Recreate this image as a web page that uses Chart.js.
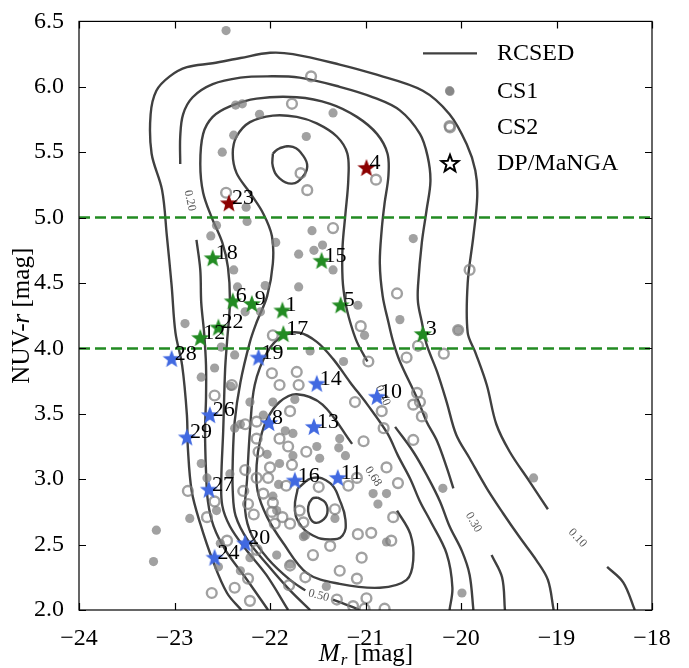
<!DOCTYPE html>
<html>
<head>
<meta charset="utf-8">
<script src="https://cdn.jsdelivr.net/npm/chart.js@4.4.1/dist/chart.umd.min.js"></script>
<style>
  body { margin: 0; background: #fff; }
</style>
</head>
<body>
<canvas id="chart" width="689" height="668"></canvas>
<script>
// ---- data ----
var xTicks = [-24, -23, -22, -21, -20, -19, -18];
var yTicks = [2.0, 2.5, 3.0, 3.5, 4.0, 4.5, 5.0, 5.5, 6.0, 6.5];
var cuts = [4.0, 5.0];

// RCSED density contours (Mr, NUV-r); split where the level labels sit
var rcsed10a = [[-22.30,2.0],[-22.45,2.13],[-22.60,2.38],[-22.73,2.66],[-22.82,2.91],[-22.86,3.24],[-22.87,3.49],[-22.92,3.87],[-22.99,4.12],[-23.03,4.48],[-23.08,4.86],[-23.13,5.21],[-23.24,5.49],[-23.25,5.79],[-23.19,5.97],[-23.05,6.08],[-22.87,6.15],[-22.60,6.18],[-22.31,6.22],[-22.0,6.26],[-21.76,6.25],[-21.27,6.17],[-20.92,6.10],[-20.40,5.97],[-20.12,5.79],[-19.94,5.56],[-19.85,5.36],[-19.83,5.16],[-19.87,4.86],[-19.93,4.50],[-19.93,4.12],[-19.85,3.97],[-19.73,3.72],[-19.63,3.42],[-19.49,3.21],[-19.28,2.98],[-19.09,2.77]];
var rcsed10b = [[-18.47,2.33],[-18.30,2.21],[-18.18,2.0]];
var rcsed20a = [[-22.94,5.41],[-22.94,5.62],[-22.91,5.79],[-22.81,5.92],[-22.60,6.02],[-22.31,6.07],[-22.03,6.08],[-21.69,6.07],[-21.27,6.0],[-20.92,5.92],[-20.64,5.82],[-20.43,5.64],[-20.35,5.47],[-20.32,5.28],[-20.36,5.06],[-20.41,4.81],[-20.45,4.48],[-20.45,4.35],[-20.41,4.20],[-20.36,4.03],[-20.25,3.82],[-20.15,3.59],[-20.05,3.34],[-19.91,3.16],[-19.73,2.93],[-19.56,2.74],[-19.38,2.55],[-19.21,2.38],[-19.09,2.23],[-19.03,2.0]];
var rcsed20b = [[-22.77,4.83],[-22.73,4.60],[-22.72,4.35],[-22.69,4.12],[-22.67,3.87],[-22.67,3.62],[-22.68,3.37],[-22.67,3.06],[-22.65,2.83],[-22.59,2.64],[-22.46,2.45],[-22.26,2.25],[-22.02,2.0]];
var rcsed30a = [[-21.81,2.0],[-22.04,2.27],[-22.26,2.47],[-22.42,2.64],[-22.50,2.80],[-22.51,3.0],[-22.49,3.37],[-22.47,3.84],[-22.45,4.05],[-22.42,4.35],[-22.44,4.62],[-22.50,4.81],[-22.61,5.0],[-22.70,5.19],[-22.73,5.41],[-22.70,5.64],[-22.60,5.77],[-22.42,5.85],[-22.14,5.91],[-21.72,5.92],[-21.37,5.87],[-21.09,5.77],[-20.88,5.64],[-20.77,5.49],[-20.76,5.32],[-20.80,5.11],[-20.83,4.91],[-20.85,4.65],[-20.82,4.40],[-20.76,4.20],[-20.71,4.05],[-20.64,3.90],[-20.46,3.62],[-20.36,3.44],[-20.25,3.29],[-20.15,3.09],[-20.08,2.93]];
var rcsed30b = [[-19.68,2.42],[-19.57,2.25],[-19.54,2.0]];
var rcsed40a = [[-21.58,2.0],[-21.79,2.15],[-22.02,2.34],[-22.23,2.53],[-22.36,2.72],[-22.39,2.91],[-22.39,3.14],[-22.37,3.44],[-22.31,3.74],[-22.21,4.05],[-22.14,4.20],[-22.03,4.40],[-21.97,4.65],[-21.98,4.86],[-22.07,5.03],[-22.21,5.19],[-22.35,5.34],[-22.39,5.49],[-22.35,5.62],[-22.21,5.73],[-21.97,5.78],[-21.72,5.77],[-21.51,5.72],[-21.30,5.62],[-21.19,5.49],[-21.18,5.29],[-21.21,5.03],[-21.24,4.78],[-21.24,4.53],[-21.21,4.35],[-21.16,4.20],[-21.09,4.05],[-20.98,3.90]];
var rcsed40b = [[-20.69,3.40],[-20.50,3.21],[-20.35,3.02],[-20.22,2.83],[-20.12,2.64],[-19.99,2.45],[-19.91,2.27],[-19.87,2.0]];
var rcsed50a = [[-21.34,2.08],[-21.16,2.03],[-21.06,2.0]];
var rcsed50b = [[-21.63,2.15],[-21.79,2.23],[-22.02,2.39],[-22.19,2.57],[-22.26,2.76],[-22.24,3.0],[-22.21,3.37],[-22.16,3.72],[-22.03,3.97],[-21.86,4.10],[-21.69,4.12],[-21.51,4.05],[-21.34,3.92],[-21.16,3.74],[-20.98,3.57],[-20.77,3.35],[-20.66,3.18],[-20.53,3.0],[-20.43,2.83],[-20.32,2.68],[-20.15,2.43],[-20.09,2.17],[-20.12,2.0]];
var rcsed50red = [[-21.97,5.49],[-21.90,5.53],[-21.76,5.54],[-21.65,5.47],[-21.61,5.39],[-21.66,5.31],[-21.77,5.26],[-21.90,5.30],[-21.97,5.39],[-21.97,5.49]];
var rcsed68 = [[-20.67,2.76],[-20.53,2.58],[-20.50,2.38],[-20.57,2.23],[-20.85,2.17],[-21.27,2.20],[-21.61,2.28],[-21.86,2.51],[-22.03,2.71],[-22.13,2.91],[-22.14,3.11],[-22.10,3.31],[-22.03,3.46],[-21.90,3.59],[-21.72,3.65],[-21.45,3.57],[-21.14,3.27]];
var rcsedIn1 = [[-21.71,2.93],[-21.55,3.01],[-21.37,2.97],[-21.27,2.84],[-21.21,2.69],[-21.24,2.57],[-21.37,2.54],[-21.55,2.57],[-21.69,2.66],[-21.74,2.78],[-21.71,2.93]];
var rcsedIn2 = [[-21.50,2.86],[-21.42,2.82],[-21.40,2.74],[-21.46,2.68],[-21.54,2.67],[-21.59,2.72],[-21.60,2.79],[-21.56,2.85],[-21.50,2.86]];

var levelText = ['0.10', '0.20', '0.30', '0.40', '0.50', '0.68'];
var levelMr   = [-18.78, -22.84, -19.87, -20.82, -21.49, -20.92];
var levelNuvr = [2.55, 5.13, 2.67, 3.64, 2.11, 3.02];

var cs1 = [[-22.46,6.43],[-22.38,5.63],[-22.50,5.50],[-22.36,5.86],[-22.29,5.87],[-22.11,5.79],[-21.62,5.62],[-21.34,5.80],[-22.25,5.08],[-22.24,4.97],[-22.56,4.94],[-22.62,4.86],[-21.94,4.81],[-21.70,4.72],[-21.56,4.90],[-21.45,4.79],[-21.54,4.75],[-21.34,4.60],[-22.38,4.60],[-22.05,4.48],[-21.70,4.47],[-22.34,4.47],[-22.89,4.19],[-22.26,4.28],[-22.10,4.28],[-20.12,5.97],[-20.50,4.84],[-21.08,4.33],[-20.64,4.22],[-20.03,4.14],
  [-22.37,3.95],[-22.58,3.85],[-22.72,3.78],[-22.37,3.39],[-22.72,3.12],[-22.66,3.01],[-22.84,2.70],[-23.19,2.61],[-23.22,2.37],[-22.56,2.76],[-22.54,2.33],[-22.42,3.04],[-22.21,3.59],[-21.74,3.61],[-21.97,3.59],[-22.07,3.49],[-21.76,3.35],[-21.84,3.37],[-22.03,3.19],[-21.51,3.25],[-21.28,3.24],[-21.21,3.18],[-21.76,3.18],[-21.90,3.12],[-21.91,2.96],[-21.97,2.87],[-21.32,2.70],[-20.92,2.89],[-20.87,2.81],[-20.78,2.89],[-21.63,2.57],[-21.93,2.42],[-21.41,2.18],[-22.21,2.40],[-22.52,2.51],[-21.58,3.98],[-22.51,4.01],[-21.01,4.10],[-22.41,3.71],[-20.19,2.93],[-19.24,3.01],[-19.99,2.13],[-20.78,2.52],[-21.48,3.16],[-21.93,2.76],[-21.65,2.56],[-21.23,3.90],[-22.31,3.42],[-21.27,3.31],[-21.79,2.35],[-22.31,2.30]];

var cs2 = [[-21.57,6.08],[-21.77,5.87],[-21.68,5.34],[-21.61,5.21],[-22.46,5.19],[-21.34,4.92],[-20.89,5.29],[-20.67,4.42],[-19.91,4.60],[-21.05,4.17],[-20.12,5.70],
  [-21.97,4.10],[-20.97,3.90],[-20.57,3.93],[-20.45,4.02],[-21.72,3.82],[-21.98,3.81],[-21.90,3.72],[-21.70,3.72],[-20.46,3.66],[-20.43,3.59],[-20.83,3.52],[-22.40,3.72],[-22.58,3.64],
  [-20.18,3.96],[-20.50,3.57],[-20.41,3.48],[-20.81,3.39],[-21.02,3.29],[-20.50,3.30],[-20.78,3.09],[-20.66,2.97],[-20.71,2.71],[-20.94,2.59],[-20.73,2.53],[-21.04,2.40],
  [-21.18,2.95],[-21.08,2.58],[-21.09,2.24],[-21.01,2.01],[-20.80,2.01],
  [-22.26,3.42],[-21.90,3.31],[-21.81,3.25],[-22.12,3.21],[-21.62,3.21],[-21.77,3.11],[-22.00,3.09],[-22.26,3.07],[-22.14,3.01],[-22.02,3.01],[-22.28,2.91],[-21.83,2.95],[-21.49,2.94],[-22.58,2.83],[-22.23,2.81],[-21.98,2.75],[-21.87,2.71],[-22.17,2.73],[-21.69,2.76],[-21.32,2.77],[-21.79,2.66],[-21.65,2.67],[-21.95,2.66],[-22.66,2.71],[-21.09,3.01],[-21.37,2.49],[-21.55,2.42],[-21.27,2.30],[-21.63,2.25],[-21.79,2.34],[-21.80,2.19],[-21.30,2.08],[-21.13,2.03],[-22.61,2.13],[-22.37,2.17],[-22.86,2.91],[-22.45,2.53],[-22.23,2.24],[-22.14,2.46],[-22.07,2.89],[-22.14,3.44],[-21.97,2.82],[-20.99,2.09],[-22.21,2.07],[-22.14,3.31],[-21.79,3.52],[-21.11,3.59],[-20.03,4.14]];

var dpIds  = ['23','4','18','15','6','9','1','5','22','12','17','3','28','19','14','10','26','8','13','29','16','11','27','24','20'];
var dpMr   = [-22.43,-20.99,-22.60,-21.46,-22.39,-22.19,-21.87,-21.26,-22.54,-22.73,-21.86,-20.40,-23.03,-22.12,-21.51,-20.88,-22.63,-22.01,-21.54,-22.87,-21.74,-21.29,-22.64,-22.58,-22.26];
var dpNuvr = [5.11,5.38,4.69,4.67,4.36,4.34,4.29,4.33,4.16,4.08,4.11,4.11,3.92,3.93,3.73,3.63,3.49,3.43,3.40,3.32,2.99,3.01,2.92,2.40,2.51];

// ---- drawing ----
var SERIF = '"Liberation Serif", "DejaVu Serif", serif';
var CONTOUR = '#404040';
var GREY = 'rgba(125,125,125,0.72)';

function pts(arr) {
    return arr.map(function(p) { return {x: p[0], y: p[1]}; });
}

function starPath(g, cx, cy, r) {
    g.beginPath();
    for (var i = 0; i < 10; i++) {
        var a = -Math.PI / 2 + i * Math.PI / 5;
        var rr = i % 2 === 0 ? r : r * 0.42;
        g.lineTo(cx + rr * Math.cos(a), cy + rr * Math.sin(a));
    }
    g.closePath();
}

function starImage(color) {
    var c = document.createElement('canvas');
    c.width = 22; c.height = 22;
    var g = c.getContext('2d');
    starPath(g, 11, 11.5, 9.5);
    g.fillStyle = color;
    g.fill();
    return c;
}

var starImgs = {
    red: starImage('#8b0000'),
    green: starImage('#228b22'),
    blue: starImage('#4169e1')
};

function dpColor(v) {
    if (v > 5) return 'red';
    if (v > 4) return 'green';
    return 'blue';
}

function contour(arr, tension) {
    return {
        data: pts(arr),
        showLine: true,
        borderColor: CONTOUR,
        borderWidth: 2.4,
        pointRadius: 0,
        fill: false,
        tension: tension === undefined ? 0.35 : tension,
        order: 4
    };
}

var datasets = [];
dpIds.forEach(function(id, i) {
    var img = starImgs[dpColor(dpNuvr[i])];
    datasets.push({
        data: [{x: dpMr[i], y: dpNuvr[i]}],
        pointStyle: img,
        pointRadius: 10,
        order: 0
    });
});
cuts.forEach(function(c) {
    datasets.push({
        data: [{x: -24, y: c}, {x: -18, y: c}],
        showLine: true,
        borderColor: '#228b22',
        borderWidth: 2.5,
        borderDash: [11, 5],
        pointRadius: 0,
        order: 1
    });
});
datasets.push({
    data: pts(cs1),
    pointRadius: 4.6,
    pointBackgroundColor: GREY,
    pointBorderWidth: 0,
    order: 2
});
datasets.push({
    data: pts(cs2),
    pointRadius: 4.9,
    pointBackgroundColor: 'rgba(0,0,0,0)',
    pointBorderColor: GREY,
    pointBorderWidth: 2.4,
    order: 3
});
[rcsed10a, rcsed10b, rcsed20a, rcsed20b, rcsed30a, rcsed30b, rcsed40a, rcsed40b,
 rcsed50a, rcsed50b, rcsed68].forEach(function(a) { datasets.push(contour(a)); });
[rcsed50red, rcsedIn1, rcsedIn2].forEach(function(a) { datasets.push(contour(a, 0.45)); });

var levelAngle = [47, 78, 60, 65, 15, 57];

var decor = {
    id: 'decor',
    beforeDatasetsDraw: function(chart) {
        var ctx = chart.ctx, x = chart.scales.x, y = chart.scales.y;
        ctx.save();
        ctx.fillStyle = '#555';
        ctx.font = '12px ' + SERIF;
        ctx.textAlign = 'center';
        ctx.textBaseline = 'middle';
        levelText.forEach(function(t, i) {
            ctx.save();
            ctx.translate(x.getPixelForValue(levelMr[i]), y.getPixelForValue(levelNuvr[i]));
            ctx.rotate(levelAngle[i] * Math.PI / 180);
            ctx.fillText(t, 0, 0);
            ctx.restore();
        });
        ctx.restore();
    },
    afterDatasetsDraw: function(chart) {
        var ctx = chart.ctx, x = chart.scales.x, y = chart.scales.y;
        ctx.save();
        ctx.fillStyle = '#000';
        ctx.font = '22px ' + SERIF;
        ctx.textAlign = 'left';
        ctx.textBaseline = 'alphabetic';
        dpIds.forEach(function(id, i) {
            ctx.fillText(id, x.getPixelForValue(dpMr[i]) + 3, y.getPixelForValue(dpNuvr[i]) + 1);
        });
        ctx.restore();
    },
    afterDraw: function(chart) {
        var ctx = chart.ctx, a = chart.chartArea, x = chart.scales.x, y = chart.scales.y;
        ctx.save();
        // frame and inward ticks
        ctx.strokeStyle = '#000';
        ctx.lineWidth = 1.2;
        ctx.strokeRect(a.left, a.top, a.right - a.left, a.bottom - a.top);
        ctx.beginPath();
        xTicks.forEach(function(v) {
            var p = Math.round(x.getPixelForValue(v)) + 0.5;
            ctx.moveTo(p, a.bottom); ctx.lineTo(p, a.bottom - 7);
            ctx.moveTo(p, a.top); ctx.lineTo(p, a.top + 7);
        });
        yTicks.forEach(function(v) {
            var p = Math.round(y.getPixelForValue(v)) + 0.5;
            ctx.moveTo(a.left, p); ctx.lineTo(a.left + 7, p);
            ctx.moveTo(a.right, p); ctx.lineTo(a.right - 7, p);
        });
        ctx.stroke();

        // axis titles
        ctx.fillStyle = '#000';
        ctx.textBaseline = 'middle';
        ctx.textAlign = 'left';
        var cx = (a.left + a.right) / 2;
        ctx.font = 'italic 25px ' + SERIF;
        var wM = ctx.measureText('M').width;
        ctx.font = 'italic 17px ' + SERIF;
        var wr = ctx.measureText('r').width;
        ctx.font = '25px ' + SERIF;
        var wm = ctx.measureText(' [mag]').width;
        var sx = cx - (wM + wr + wm) / 2, ty = 654;
        ctx.font = 'italic 25px ' + SERIF;
        ctx.fillText('M', sx, ty);
        ctx.font = 'italic 17px ' + SERIF;
        ctx.fillText('r', sx + wM + 1, ty + 7);
        ctx.font = '25px ' + SERIF;
        ctx.fillText(' [mag]', sx + wM + wr + 1, ty);

        ctx.save();
        ctx.translate(22, (a.top + a.bottom) / 2);
        ctx.rotate(-Math.PI / 2);
        ctx.font = '25px ' + SERIF;
        var w1 = ctx.measureText('NUV-').width;
        var w3 = ctx.measureText(' [mag]').width;
        ctx.font = 'italic 25px ' + SERIF;
        var w2 = ctx.measureText('r').width;
        var s = -(w1 + w2 + w3) / 2;
        ctx.font = '25px ' + SERIF;
        ctx.fillText('NUV-', s, 0);
        ctx.font = 'italic 25px ' + SERIF;
        ctx.fillText('r', s + w1, 0);
        ctx.font = '25px ' + SERIF;
        ctx.fillText(' [mag]', s + w1 + w2, 0);
        ctx.restore();

        // legend
        var lx = a.right - 202, tx = a.right - 155;
        var rows = [a.top + 32, a.top + 70, a.top + 106, a.top + 142];
        ctx.strokeStyle = CONTOUR;
        ctx.lineWidth = 2.4;
        ctx.beginPath();
        ctx.moveTo(lx - 27, rows[0]); ctx.lineTo(lx + 27, rows[0]);
        ctx.stroke();
        ctx.fillStyle = GREY;
        ctx.beginPath(); ctx.arc(lx, rows[1], 4.6, 0, Math.PI * 2); ctx.fill();
        ctx.strokeStyle = GREY;
        ctx.lineWidth = 2.4;
        ctx.beginPath(); ctx.arc(lx, rows[2], 4.9, 0, Math.PI * 2); ctx.stroke();
        starPath(ctx, lx, rows[3] + 0.5, 9);
        ctx.fillStyle = '#fff';
        ctx.fill();
        ctx.strokeStyle = '#000';
        ctx.lineWidth = 2;
        ctx.stroke();
        ctx.fillStyle = '#000';
        ctx.font = '24px ' + SERIF;
        ['RCSED', 'CS1', 'CS2', 'DP/MaNGA'].forEach(function(t, i) {
            ctx.fillText(t, tx, rows[i]);
        });
        ctx.restore();
    }
};

Chart.defaults.font.family = SERIF;

var myChart = new Chart(document.getElementById('chart'), {
    type: 'scatter',
    data: { datasets: datasets },
    options: {
        responsive: false,
        animation: false,
        devicePixelRatio: 1,
        events: [],
        layout: { padding: { top: 17, right: 37, left: 0, bottom: 0 } },
        plugins: { legend: { display: false }, tooltip: { enabled: false } },
        scales: {
            x: {
                type: 'linear', min: -24, max: -18,
                afterFit: function(s) { s.height = 58; },
                afterBuildTicks: function(s) { s.ticks = xTicks.map(function(v) { return {value: v}; }); },
                ticks: {
                    color: '#000', padding: 6, maxRotation: 0,
                    font: { size: 24, family: SERIF },
                    callback: function(v) { return (v < 0 ? '\u2212' : '') + Math.abs(v); }
                },
                grid: { display: false },
                border: { display: false }
            },
            y: {
                type: 'linear', min: 2, max: 6.5,
                afterFit: function(s) { s.width = 79; },
                afterBuildTicks: function(s) { s.ticks = yTicks.map(function(v) { return {value: v}; }); },
                ticks: {
                    color: '#000', padding: 7,
                    font: { size: 24, family: SERIF },
                    callback: function(v) { return Number(v).toFixed(1); }
                },
                grid: { display: false },
                border: { display: false }
            }
        }
    },
    plugins: [decor]
});
</script>
</body>
</html>
